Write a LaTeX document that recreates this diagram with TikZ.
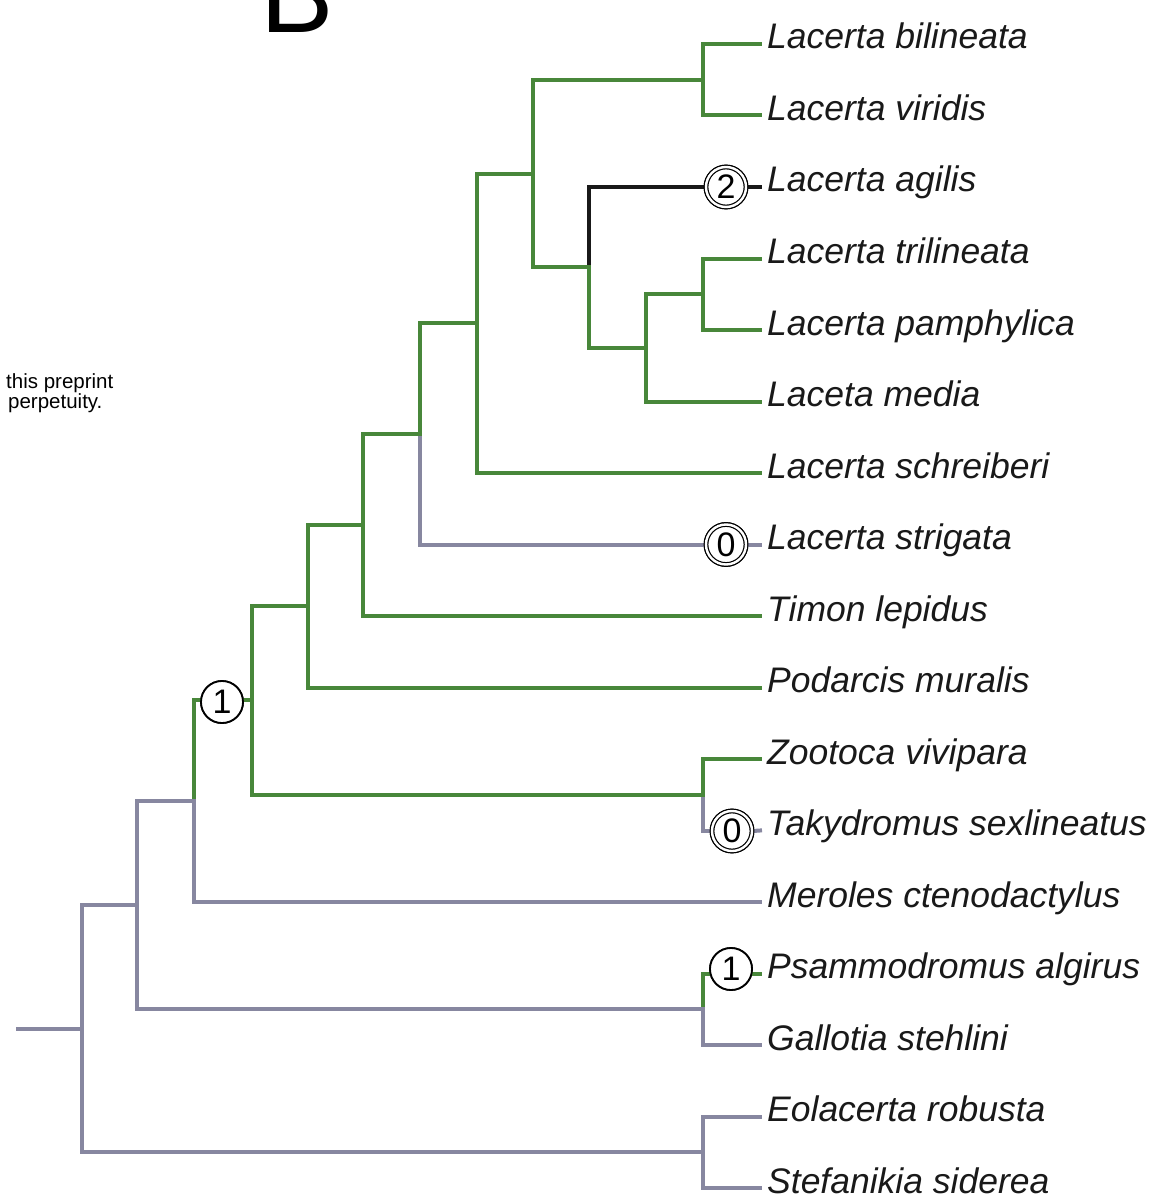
\documentclass[tikz,border=0pt]{standalone}
\usepackage{fontspec}
\setmainfont{Liberation Sans}
\definecolor{brgreen}{RGB}{72,135,58}
\definecolor{brgray}{RGB}{135,135,160}
\definecolor{brblack}{RGB}{25,25,25}
\begin{document}
\begin{tikzpicture}[x=1pt,y=-1pt,
  br/.style={line width=4pt,line cap=rect,line join=miter},
  gr/.style={br,draw=brgreen},
  gy/.style={br,draw=brgray},
  bk/.style={br,draw=brblack},
  taxon/.style={anchor=base west,inner sep=0pt,font=\fontsize{35.5}{40}\selectfont\itshape,text=black!90},
  st/.style={circle,draw=black,line width=1.8pt,minimum size=42pt,inner sep=0pt,fill=white,font=\fontsize{34}{34}\selectfont},
  stdbl/.style={st,double=white,double distance=2.4pt,line width=1.2pt,minimum size=40pt}]
\clip (0,0) rectangle (1157,1198);
\fill[white] (0,0) rectangle (1157,1198);
% panel letter and side text
\node[anchor=base west,inner sep=0pt,font=\fontsize{110}{110}\selectfont] (panel) at (260,33) {B};
\node[anchor=base west,inner sep=0pt,font=\fontsize{20.5}{21}\selectfont] (side1) at (6,388) {this preprint};
\node[anchor=base west,inner sep=0pt,font=\fontsize{20.5}{21}\selectfont] (side2) at (8,408) {perpetuity.};
% tip coordinates and labels
\foreach \i/\nm in {0/Lacerta bilineata,1/Lacerta viridis,2/Lacerta agilis,3/Lacerta trilineata,4/Lacerta pamphylica,5/Laceta media,6/Lacerta schreiberi,7/Lacerta strigata,8/Timon lepidus,9/Podarcis muralis,10/Zootoca vivipara,11/Takydromus sexlineatus,12/Meroles ctenodactylus,13/Psammodromus algirus,14/Gallotia stehlini,15/Eolacerta robusta,16/Stefanikia siderea}{
  \coordinate (t\i) at (760,{44+71.5*\i});
  \node[taxon] (l\i) at (767,{49+71.5*\i}) {\nm};
}
% internal nodes
\coordinate (nbv) at (703,79.75);
\coordinate (ntp) at (703,294.25);
\coordinate (ntpm) at (646,347.9);
\coordinate (na) at (589,267.4);
\coordinate (nL1) at (533,173.6);
\coordinate (nL2) at (477,323.3);
\coordinate (nL3) at (420,433.9);
\coordinate (nL4) at (363,525);
\coordinate (nL5) at (308,606);
\coordinate (nzt) at (703,794.75);
\coordinate (nX) at (252,700.4);
\coordinate (nM) at (194,801.2);
\coordinate (npg) at (703,1009.25);
\coordinate (nP) at (137,905.2);
\coordinate (nes) at (703,1152.25);
\coordinate (root) at (82,1028.7);
\coordinate (r0) at (18,1028.7);
% state circles (positions)
\node[stdbl] (c2) at (726,187) {2};
\node[stdbl] (c7) at (726,544.5) {0};
\node[stdbl] (c11) at (732,831) {0};
\node[st] (c13) at (731,969) {1};
\node[st] (c1) at (222,702) {1};
% branches
\draw[gr] (nbv) |- (t0);
\draw[gr] (nbv) |- (t1);
\draw[gr] (ntp) |- (t3);
\draw[gr] (ntp) |- (t4);
\draw[gr] (ntpm) |- (ntp);
\draw[gr] (ntpm) |- (t5);
\draw[bk] (na) |- (c2.west);
\draw[bk] (c2.east) -- (t2);
\draw[gr] (na) |- (ntpm);
\draw[gr] (nL1) |- (nbv);
\draw[gr] (nL1) |- (na);
\draw[gr] (nL2) |- (nL1);
\draw[gr] (nL2) |- (t6);
\draw[gr] (nL3) |- (nL2);
\draw[gy] (nL3) |- (c7.west);
\draw[gy] (c7.east) -- (t7);
\draw[gr] (nL4) |- (nL3);
\draw[gr] (nL4) |- (t8);
\draw[gr] (nL5) |- (nL4);
\draw[gr] (nL5) |- (t9);
\draw[gr] (nzt) |- (t10);
\draw[gy] (nzt) |- (c11.west);
\draw[gy] (c11.east) -- (t11);
\draw[gr] (nX) |- (nL5);
\draw[gr] (nX) |- (nzt);
\draw[gr] (nM) |- (nX);
\draw[gy] (nM) |- (t12);
\draw[gr] (npg) |- (t13);
\draw[gy] (npg) |- (t14);
\draw[gy] (nP) |- (nM);
\draw[gy] (nP) |- (npg);
\draw[gy] (nes) |- (t15);
\draw[gy] (nes) |- (t16);
\draw[gy] (root) |- (nP);
\draw[gy] (root) |- (nes);
\draw[gy] (r0) -- (root);
% circles drawn over the branches
\node[stdbl] at (c2) {2};
\node[stdbl] at (c7) {0};
\node[stdbl] at (c11) {0};
\node[st] at (c13) {1};
\node[st] at (c1) {1};
\end{tikzpicture}
\end{document}
